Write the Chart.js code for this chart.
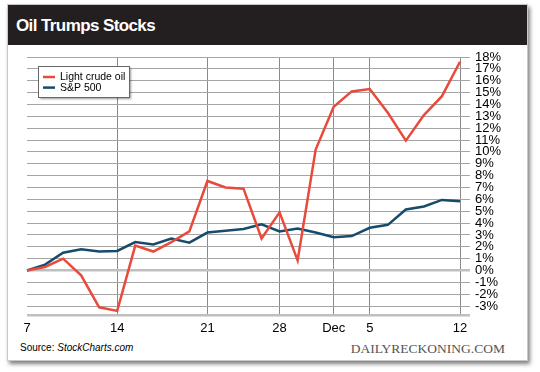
<!DOCTYPE html>
<html>
<head>
<meta charset="utf-8">
<script src="https://cdn.jsdelivr.net/npm/chart.js@4/dist/chart.umd.min.js"></script>
<style>
  body { margin: 0; width: 540px; height: 372px; background: #fff; position: relative; overflow: hidden; font-family: "Liberation Sans", Arial, sans-serif; }
  #card { position: absolute; left: 7px; top: 4px; width: 521px; height: 357px; box-sizing: border-box; background: #fff; border: 1px solid #c8c8c8; box-shadow: 2px 3px 4px rgba(0,0,0,0.5); }
  #titlebar { position: absolute; left: 0; top: 0; right: 0; height: 40px; background: #231f20; }
  #title { position: absolute; left: 16px; top: 16px; line-height: 20px; font-size: 17px; font-weight: bold; color: #fff; letter-spacing: -0.6px; white-space: nowrap; }
  #wrap { position: absolute; left: 0; top: 44px; width: 540px; height: 296px; }
  #source { position: absolute; left: 20px; top: 341.5px; line-height: 12px; font-size: 10px; color: #000; white-space: nowrap; }
  #brand { position: absolute; right: 35px; top: 341px; line-height: 15px; font-size: 13.5px; color: #555; font-family: "Liberation Serif", "Times New Roman", serif; white-space: nowrap; }
</style>
</head>
<body>
<div id="card"><div id="titlebar"></div></div>
<div id="title">Oil Trumps Stocks</div>
<div id="wrap"><canvas id="oilChart"></canvas></div>
<div id="source">Source: <i>StockCharts.com</i></div>
<div id="brand">DAILYRECKONING.COM</div>

<script>
// trading days, Nov 7 - Dec 12
const dates = ['Nov 7', 'Nov 8', 'Nov 9', 'Nov 10', 'Nov 11', 'Nov 14', 'Nov 15', 'Nov 16', 'Nov 17', 'Nov 18',
               'Nov 21', 'Nov 22', 'Nov 23', 'Nov 25', 'Nov 28', 'Nov 29', 'Nov 30', 'Dec 1', 'Dec 2',
               'Dec 5', 'Dec 6', 'Dec 7', 'Dec 8', 'Dec 9', 'Dec 12'];
const crudeOil = [0, 0.3, 1.0, -0.4, -3.1, -3.4, 2.1, 1.6, 2.4, 3.3,
                  7.55, 7.0, 6.9, 2.7, 4.9, 0.85, 10.2, 13.8, 15.1,
                  15.3, 13.3, 10.95, 13.1, 14.7, 17.6];
const sp500 = [0, 0.5, 1.5, 1.8, 1.6, 1.65, 2.4, 2.2, 2.7, 2.35,
               3.2, 3.35, 3.5, 3.9, 3.3, 3.55, 3.2, 2.8, 2.9,
               3.6, 3.85, 5.15, 5.4, 5.95, 5.85];
const xTickText = { 'Nov 7': '7', 'Nov 14': '14', 'Nov 21': '21', 'Nov 28': '28', 'Dec 1': 'Dec', 'Dec 5': '5', 'Dec 12': '12' };
const yTicks = [-3, -2, -1, 0, 1, 2, 3, 4, 5, 6, 7, 8, 9, 10, 11, 12, 13, 14, 15, 16, 17, 18];
const yMin = -3.8;
const yMax = 18;

const boxLegend = {
    id: 'boxLegend',
    afterDatasetsDraw(chart) {
        const c = chart.ctx;
        const area = chart.chartArea;
        const x = area.left + 11, y = area.top + 9;
        c.save();
        c.font = '10.5px "Liberation Sans", Arial, sans-serif';
        let w = 0;
        chart.data.datasets.forEach(ds => { w = Math.max(w, c.measureText(ds.label).width); });
        const bw = Math.round(w + 26), bh = 31;
        c.shadowColor = 'rgba(0,0,0,0.4)';
        c.shadowOffsetX = 2;
        c.shadowOffsetY = 2;
        c.shadowBlur = 2;
        c.fillStyle = '#fff';
        c.fillRect(x, y, bw, bh);
        c.shadowColor = 'transparent';
        c.strokeStyle = '#666';
        c.lineWidth = 1;
        c.strokeRect(x + 0.5, y + 0.5, bw, bh);
        c.textBaseline = 'middle';
        chart.data.datasets.forEach((ds, i) => {
            const ry = y + 11 + i * 10.6;
            c.strokeStyle = ds.borderColor;
            c.lineWidth = 2.5;
            c.beginPath();
            c.moveTo(x + 5, ry);
            c.lineTo(x + 17, ry);
            c.stroke();
            c.fillStyle = '#000';
            c.fillText(ds.label, x + 22, ry + 0.5);
        });
        c.restore();
    }
};

new Chart(document.getElementById('oilChart'), {
    type: 'line',
    data: {
        labels: dates,
        datasets: [{
            label: 'Light crude oil',
            data: crudeOil,
            borderColor: '#e84a3c',
            borderWidth: 2.5,
            pointRadius: 0,
            tension: 0
        }, {
            label: 'S&P 500',
            data: sp500,
            borderColor: '#174b6c',
            borderWidth: 2.5,
            pointRadius: 0,
            tension: 0
        }]
    },
    options: {
        responsive: true,
        maintainAspectRatio: false,
        animation: false,
        layout: { padding: { left: 27, top: 13, right: 0, bottom: 0 } },
        plugins: {
            legend: { display: false },
            tooltip: { enabled: false }
        },
        scales: {
            x: {
                afterFit: s => { s.height = 24.4; },
                border: { display: false },
                grid: {
                    drawTicks: false,
                    color: c => (c.index > 0 && xTickText[dates[c.index]]) ? '#8a8a8a' : 'rgba(0,0,0,0)',
                    lineWidth: 1
                },
                ticks: {
                    autoSkip: false,
                    maxRotation: 0,
                    padding: 5,
                    color: '#000',
                    font: { family: '"Liberation Sans", Arial, sans-serif', size: 13 },
                    callback: function(v) { return xTickText[this.getLabelForValue(v)] || ''; }
                }
            },
            y: {
                position: 'right',
                min: yMin,
                max: yMax,
                afterFit: s => { s.width = 80; },
                afterBuildTicks: s => { s.ticks = [yMin].concat(yTicks).map(v => ({ value: v })); },
                border: { display: false },
                grid: {
                    tickLength: 10,
                    color: c => (c.tick && (c.tick.value === 0 || c.tick.value === yMin)) ? '#bfbfbf' : '#a5a5a5',
                    lineWidth: c => (c.tick && (c.tick.value === 0 || c.tick.value === yMin)) ? 2.5 : 1
                },
                ticks: {
                    autoSkip: false,
                    padding: 5,
                    color: '#000',
                    font: { family: '"Liberation Sans", Arial, sans-serif', size: 13 },
                    callback: v => Number.isInteger(v) ? v + '%' : ''
                }
            }
        }
    },
    plugins: [boxLegend]
});
</script>
</body>
</html>
